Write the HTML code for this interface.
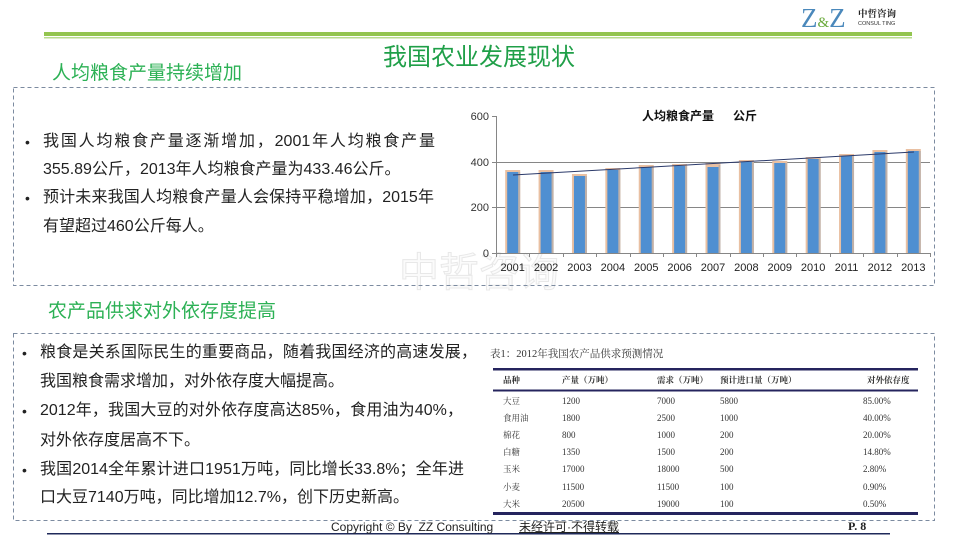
<!DOCTYPE html>
<html><head><meta charset="utf-8">
<style>
html,body{margin:0;padding:0;background:#fff;}
body{width:960px;height:540px;position:relative;overflow:hidden;font-family:"Liberation Sans","Noto Sans CJK SC",sans-serif;}
.abs{position:absolute;white-space:nowrap;}
.ln{position:absolute;height:28px;line-height:28px;font-size:16px;color:#222;font-family:"Liberation Sans","Noto Sans CJK SC",sans-serif;}
.j{text-align:justify;text-align-last:justify;white-space:normal;}
.dot{position:absolute;font-size:14px;line-height:28px;height:28px;color:#222;}
.tb{position:absolute;font-size:9px;line-height:12px;color:#333;font-family:"Liberation Serif","Noto Serif CJK SC",serif;white-space:nowrap;}
</style></head><body>

<!-- watermark (behind chart) -->
<div class="abs" style="left:399px;top:246px;font-size:40px;line-height:46px;color:#fbfbfb;-webkit-text-stroke:1px #e8e8e8;font-family:'Noto Sans CJK SC',sans-serif;">中哲咨询</div>

<svg width="960" height="540" style="position:absolute;left:0;top:0" xmlns="http://www.w3.org/2000/svg">
  <!-- header lines -->
  <rect x="44" y="32" width="868" height="4" fill="#93c54f"/>
  <rect x="44" y="37" width="868" height="1.5" fill="#b9dc8f"/>
  <!-- dashed boxes -->
  <rect x="13.5" y="87.5" width="921" height="198" fill="none" stroke="#7c8ba0" stroke-width="1" stroke-dasharray="4,3"/>
  <rect x="13.5" y="333.5" width="921" height="187" fill="none" stroke="#7c8ba0" stroke-width="1" stroke-dasharray="4,3"/>

  <!-- chart -->
  <g font-family="Liberation Sans, sans-serif" font-size="11" fill="#333">
    <line x1="496" y1="162.5" x2="930" y2="162.5" stroke="#868686" stroke-width="1"/>
    <line x1="496" y1="207.5" x2="930" y2="207.5" stroke="#868686" stroke-width="1"/>
    <text x="489" y="120" text-anchor="end">600</text>
    <text x="489" y="166" text-anchor="end">400</text>
    <text x="489" y="211" text-anchor="end">200</text>
    <text x="489" y="257" text-anchor="end">0</text>
  </g>
  <g id="bars"></g>
  <g stroke="#868686" stroke-width="1">
    <line x1="496.5" y1="116" x2="496.5" y2="253"/>
    <line x1="492" y1="116.5" x2="496" y2="116.5"/>
    <line x1="492" y1="162.5" x2="496" y2="162.5"/>
    <line x1="492" y1="207.5" x2="496" y2="207.5"/>
    <line x1="492" y1="253.5" x2="930" y2="253.5"/>
  </g>
  <g id="ticks" stroke="#868686" stroke-width="1"></g>
  <line x1="513" y1="175" x2="914" y2="152" stroke="#2b3a6a" stroke-width="1"/>
  <g id="xl" font-family="Liberation Sans, sans-serif" font-size="11" fill="#222" text-anchor="middle"></g>
  <text x="642" y="120" font-family="Liberation Sans, Noto Sans CJK SC, sans-serif" font-size="12" font-weight="bold" fill="#111">人均粮食产量</text>
  <text x="733" y="120" font-family="Liberation Sans, Noto Sans CJK SC, sans-serif" font-size="12" font-weight="bold" fill="#111">公斤</text>

  <!-- table lines -->
  <rect x="493" y="368" width="425" height="2.5" fill="#25245e"/>
  <rect x="493" y="389.5" width="425" height="2" fill="#25245e"/>
  <rect x="493" y="512" width="425" height="3" fill="#25245e"/>

  <!-- footer line -->
  <rect x="47" y="533" width="843" height="1.5" fill="#1f2a5a"/>
</svg>

<!-- logo -->
<div class="abs" style="left:801px;top:3px;font-family:'Liberation Serif',serif;font-size:27px;line-height:30px;color:#4a88bb;">Z<span style="font-size:15px;color:#6aaa3a;">&amp;</span>Z</div>
<div class="abs" style="left:858px;top:7px;font-family:'Noto Serif CJK SC',serif;font-size:9.5px;line-height:12px;font-weight:bold;color:#222;">中哲咨询</div>
<div class="abs" style="left:858px;top:21px;font-family:'Liberation Sans',sans-serif;font-size:5.5px;line-height:7px;color:#333;">CONSUL TING</div>

<!-- titles -->
<div class="abs" style="left:383px;top:41px;font-size:24px;line-height:28px;color:#1f9f48;font-family:'Noto Sans CJK SC',sans-serif;">我国农业发展现状</div>
<div class="abs" style="left:52px;top:60px;font-size:19px;line-height:24px;color:#2cb155;font-family:'Noto Sans CJK SC',sans-serif;">人均粮食产量持续增加</div>
<div class="abs" style="left:48px;top:298px;font-size:19px;line-height:24px;color:#2cb155;font-family:'Noto Sans CJK SC',sans-serif;">农产品供求对外依存度提高</div>

<!-- box 1 text -->
<div class="dot" style="left:25px;top:128px;">•</div>
<div class="ln j" style="left:43px;top:128px;width:392px;">我国人均粮食产量逐渐增加，2001年人均粮食产量</div>
<div class="ln" style="left:43px;top:156px;">355.89公斤，2013年人均粮食产量为433.46公斤。</div>
<div class="dot" style="left:25px;top:184px;">•</div>
<div class="ln j" style="left:43px;top:184px;width:391px;">预计未来我国人均粮食产量人会保持平稳增加，2015年</div>
<div class="ln" style="left:43px;top:213px;">有望超过460公斤每人。</div>

<!-- box 2 text -->
<div class="dot" style="left:22px;top:339px;">•</div>
<div class="ln j" style="left:40px;top:339px;width:437px;">粮食是关系国际民生的重要商品，随着我国经济的高速发展，</div>
<div class="ln" style="left:40px;top:368px;">我国粮食需求增加，对外依存度大幅提高。</div>
<div class="dot" style="left:22px;top:397px;">•</div>
<div class="ln j" style="left:40px;top:397px;width:423px;">2012年，我国大豆的对外依存度高达85%，食用油为40%，</div>
<div class="ln" style="left:40px;top:427px;">对外依存度居高不下。</div>
<div class="dot" style="left:22px;top:456px;">•</div>
<div class="ln j" style="left:40px;top:456px;width:424px;">我国2014全年累计进口1951万吨，同比增长33.8%；全年进</div>
<div class="ln" style="left:40px;top:484px;">口大豆7140万吨，同比增加12.7%，创下历史新高。</div>

<!-- table -->
<div class="abs" style="left:490px;top:348px;font-size:10.5px;line-height:14px;color:#333;font-family:'Liberation Serif','Noto Serif CJK SC',serif;">表1：2012年我国农产品供求预测情况</div>
<div id="tbl"></div>

<!-- footer -->
<div class="abs" style="left:331px;top:520px;font-size:12px;line-height:15px;color:#222;">Copyright © By&nbsp; ZZ Consulting</div>
<div class="abs" style="left:519px;top:520px;font-size:12px;line-height:15px;color:#222;text-decoration:underline;font-family:'Liberation Sans','Noto Sans CJK SC',sans-serif;">未经许可·不得转载</div>
<div class="abs" style="left:848px;top:519px;font-size:12px;line-height:15px;color:#222;font-weight:bold;font-family:'Liberation Serif',serif;">P. 8</div>

<script>
(function(){
  var NS="http://www.w3.org/2000/svg";
  var bars=document.getElementById('bars'), ticks=document.getElementById('ticks'), xl=document.getElementById('xl');
  var w=434/13, tops=[172,172,176,170,167,166,167,162,163,159,156,152,151];
  var ptops=[170,170,174,168,165,164,163,160,161,157,154,150,149];
  function r(p,x,y,wd,h,f){var e=document.createElementNS(NS,'rect');e.setAttribute('x',x);e.setAttribute('y',y);e.setAttribute('width',wd);e.setAttribute('height',h);e.setAttribute('fill',f);p.appendChild(e);}
  for(var i=0;i<13;i++){
    var c=496+w*(i+0.5);
    r(bars,c-7.5,ptops[i],15,253-ptops[i],'#e9c0a2');
    r(bars,c+5.5,ptops[i]+2,2,251-ptops[i],'#bfb0a8');
    r(bars,c-5.5,tops[i],11,253-tops[i],'#4f8fd1');
    var t=document.createElementNS(NS,'text');t.setAttribute('x',c);t.setAttribute('y',271);t.textContent=String(2001+i);xl.appendChild(t);
  }
  for(var k=0;k<=13;k++){
    var x=Math.round(496+w*k)+0.5;
    var l=document.createElementNS(NS,'line');l.setAttribute('x1',x);l.setAttribute('x2',x);l.setAttribute('y1',253);l.setAttribute('y2',257);ticks.appendChild(l);
  }
  var tbl=document.getElementById('tbl');
  var rows=[["品种","产量（万吨）","需求（万吨）","预计进口量（万吨）","对外依存度"],
    ["大豆","1200","7000","5800","85.00%"],["食用油","1800","2500","1000","40.00%"],
    ["棉花","800","1000","200","20.00%"],["白糖","1350","1500","200","14.80%"],
    ["玉米","17000","18000","500","2.80%"],["小麦","11500","11500","100","0.90%"],
    ["大米","20500","19000","100","0.50%"]];
  var ys=[380,401,418,435,452,469,487,504], xs=[503,562,657,720,863];
  for(var a=0;a<rows.length;a++){
    for(var b=0;b<5;b++){
      var d=document.createElement('div');d.className='tb';
      var lx=xs[b]; if(a==0&&b==4) lx=867;
      d.style.left=lx+'px';d.style.top=(ys[a]-6)+'px';
      if(a==0){d.style.fontSize='8.5px';d.style.fontWeight='bold';}
      else if(b==0){d.style.fontSize='8.5px';}
      d.textContent=rows[a][b];tbl.appendChild(d);
    }
  }
})();
</script>
</body></html>
